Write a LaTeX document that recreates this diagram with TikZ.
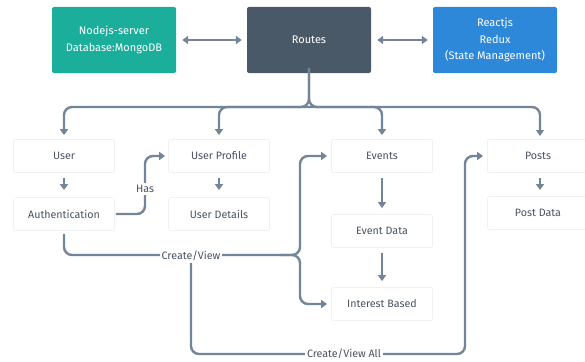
\documentclass[tikz,border=0pt]{standalone}
\usepackage{fontspec}
\setmainfont{Fira Sans}
\usetikzlibrary{arrows.meta}
\definecolor{teal1}{RGB}{27,174,155}
\definecolor{slate1}{RGB}{74,89,104}
\definecolor{blue1}{RGB}{46,136,218}
\definecolor{line1}{RGB}{115,133,152}
\definecolor{txt1}{RGB}{72,84,96}
\definecolor{bord1}{RGB}{240,241,243}
\begin{document}
\begin{tikzpicture}[x=1pt,y=-1pt,
  topbox/.style={draw=none,rounded corners=2pt,minimum width=124pt,minimum height=66pt,text=white,align=center,font=\fontsize{11}{16.5}\selectfont},
  itembox/.style={draw=bord1,line width=0.8pt,fill=white,rounded corners=2pt,minimum width=101pt,minimum height=33pt,text=txt1,font=\fontsize{10.7}{12}\selectfont},
  conn/.style={draw=line1,line width=2.4pt,rounded corners=8pt,-{Triangle[length=6pt,width=8pt]}},
  lbl/.style={fill=white,text=txt1,inner sep=2pt,font=\fontsize{10.7}{12}\selectfont}]
\useasboundingbox (0,0) rectangle (585,361);
% top
\node[topbox,fill=teal1] (node) at (114,40) {Nodejs-server\\Database:MongoDB};
\node[topbox,fill=slate1] (routes) at (309,40) {Routes};
\node[topbox,fill=blue1] (react) at (495,40) {Reactjs\\Redux\\(State Management)};
\draw[conn,{Triangle[length=6pt,width=8pt]}-{Triangle[length=6pt,width=8pt]},shorten <=6pt,shorten >=5pt] (node.east) -- (routes.west);
\draw[conn,{Triangle[length=6pt,width=8pt]}-{Triangle[length=6pt,width=8pt]},shorten <=6pt,shorten >=5pt] (routes.east) -- (react.west);
% items
\node[itembox] (user) at (64,156) {User};
\node[itembox] (uprof) at (219,156) {User Profile};
\node[itembox] (events) at (382,156) {Events};
\node[itembox] (posts) at (538,156) {Posts};
\node[itembox] (auth) at (64,214) {Authentication};
\node[itembox] (udet) at (219,214) {User Details};
\node[itembox] (pdata) at (538,213) {Post Data};
\node[itembox] (edata) at (382,231) {Event Data};
\node[itembox] (interest) at (382,304) {Interest Based};
% brace
\coordinate (rb) at ([yshift=5pt]routes.south);
\coordinate (pn) at (540,140);
\draw[conn,shorten >=4pt] (rb) |- (64,107) -- (user.north);
\draw[conn,shorten >=4pt] (rb) |- (540,107) -- (pn);
\draw[conn,shorten >=4pt] (309,107) -| (uprof.north);
\draw[conn,shorten >=4pt] (309,107) -| (events.north);
% vertical arrows
\coordinate (ps) at (540,173);
\coordinate (pd) at (540,197);
\draw[conn,shorten <=5pt,shorten >=7pt] (user.south) -- (auth.north);
\draw[conn,shorten <=5pt,shorten >=7pt] (uprof.south) -- (udet.north);
\draw[conn,shorten <=5pt,shorten >=7pt] (ps) -- (pd);
\draw[conn,shorten <=5pt,shorten >=6pt] (events.south) -- (edata.north);
\draw[conn,shorten <=5pt,shorten >=6pt] (edata.south) -- (interest.north);
% has
\draw[conn,shorten <=1pt,shorten >=3pt] (auth.east) -- (145,214) |- (uprof.west);
\node[lbl] (has) at (145,189) {Has};
% create/view
\draw[conn,shorten <=3pt,shorten >=4pt] (auth.south) |- (300,255) |- (events.west);
\draw[conn,shorten >=4pt] (280,255) -| (300,280) |- (interest.west);
\node[lbl] (cv) at (191,256) {Create/View};
\draw[conn,shorten >=4pt] (cv.south) |- (465,354) |- (posts.west);
\node[lbl] (cva) at (344,354) {Create/View All};
\end{tikzpicture}
\end{document}
